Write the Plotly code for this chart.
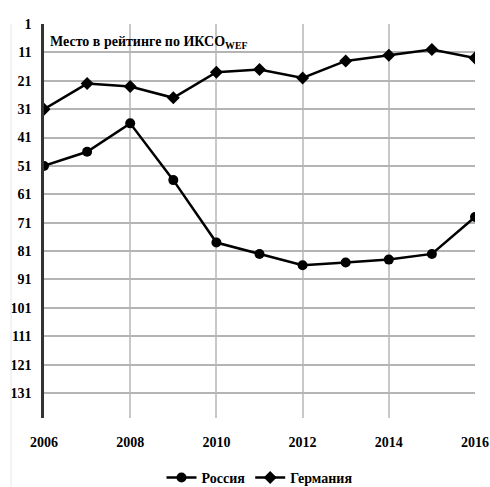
import plotly.graph_objects as go

years = [2006, 2007, 2008, 2009, 2010, 2011, 2012, 2013, 2014, 2015, 2016]
russia = [51, 46, 36, 56, 78, 82, 86, 85, 84, 82, 69]
germany = [31, 22, 23, 27, 18, 17, 20, 14, 12, 10, 13]
y_ticks = [1, 11, 21, 31, 41, 51, 61, 71, 81, 91, 101, 111, 121, 131]
x_ticks = [2006, 2008, 2010, 2012, 2014, 2016]

FONT = "Liberation Serif"

fig = go.Figure()
fig.add_trace(go.Scatter(
    x=years, y=russia, name="<b>Россия</b>", mode="lines+markers",
    line=dict(color="black", width=2.5),
    marker=dict(symbol="circle", size=10, color="black"),
))
fig.add_trace(go.Scatter(
    x=years, y=germany, name="<b>Германия</b>", mode="lines+markers",
    line=dict(color="black", width=2.5),
    marker=dict(symbol="diamond", size=10, color="black"),
))

# plot area should span x 44..475, y 24..418
fig.update_layout(
    template="none",
    width=490, height=487,
    margin=dict(l=44, r=15, t=24, b=69, autoexpand=False),
    paper_bgcolor="white", plot_bgcolor="white",
    font=dict(family=FONT, color="black", size=14),
    showlegend=True,
    legend=dict(orientation="h", x=0.5, xanchor="center", y=-0.152, yanchor="middle",
                font=dict(family=FONT, size=14, color="black"), itemwidth=30,
                tracegroupgap=0, bgcolor="rgba(0,0,0,0)"),
    xaxis=dict(
        range=[2006, 2016], tickvals=x_ticks, automargin=False,
        ticktext=[f"<b>{t}</b>" for t in x_ticks], ticklabeloverflow="allow",
        showgrid=True, gridcolor="#c8c8c8", gridwidth=1.5,
        showline=False, zeroline=False, ticks="", ticklabelstandoff=14,
        tickfont=dict(family=FONT, size=14, color="black"),
    ),
    yaxis=dict(
        range=[139.8, 1], tickvals=y_ticks, automargin=False,
        ticktext=[f"<b>{t}</b>" for t in y_ticks], ticklabeloverflow="allow",
        showgrid=True, gridcolor="#b4b4b4", gridwidth=1.5,
        showline=True, linecolor="#333333", linewidth=2.5,
        zeroline=False, ticks="", ticklabelstandoff=7,
        tickfont=dict(family=FONT, size=14, color="black"),
    ),
    annotations=[dict(
        x=0.01, y=1 - (42 - 24) / 394, xref="paper", yref="paper",
        text="<b>Место в рейтинге по ИКСО<sub>WEF</sub></b>",
        showarrow=False, xanchor="left", yanchor="middle",
        font=dict(family=FONT, size=14, color="black"),
    )],
    shapes=[dict(type="line", xref="paper", yref="paper",
                 x0=-33/431, x1=-33/431, y0=1.0, y1=-0.175,
                 line=dict(color="#e6e6e6", width=1))],
)

fig.write_html(
    "out.html",
    config={"displayModeBar": False},
    post_script="document.body.style.margin='0';"
                "document.body.style.overflow='hidden';"
                "document.documentElement.style.overflow='hidden';",
)
